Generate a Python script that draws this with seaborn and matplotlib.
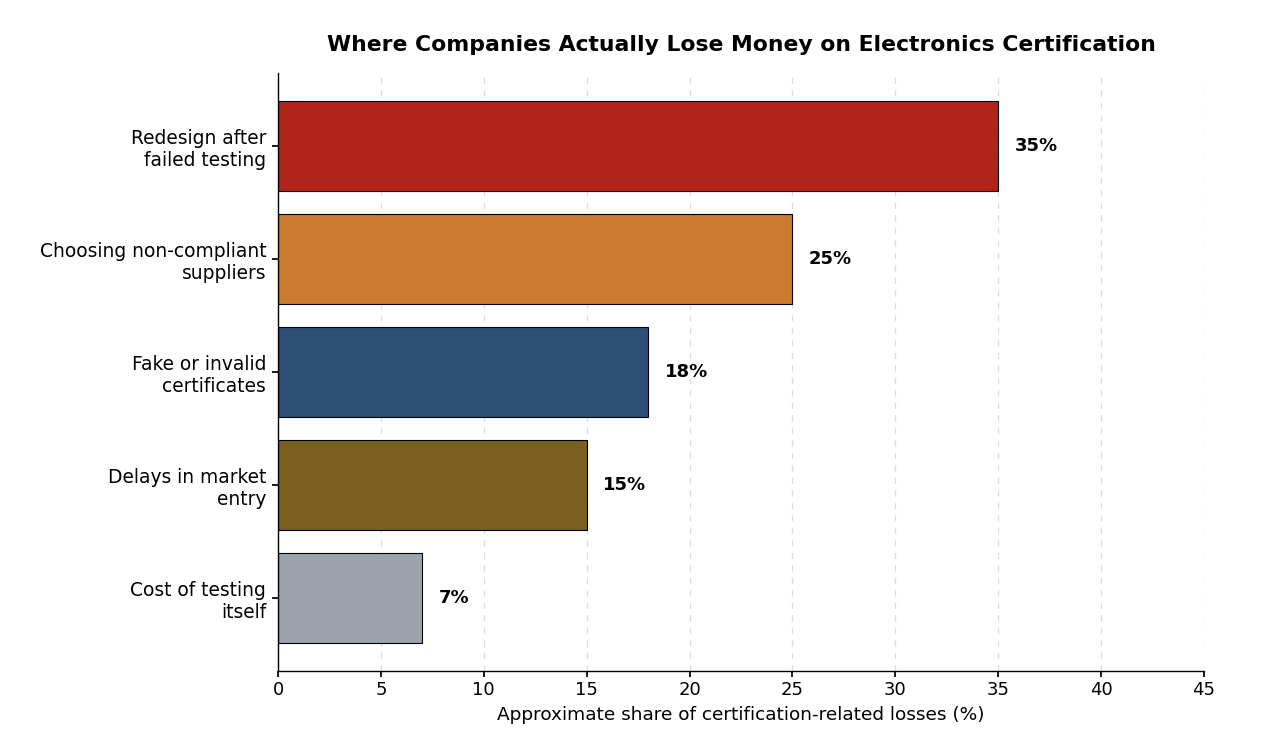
import matplotlib
matplotlib.use("Agg")
import matplotlib.pyplot as plt
import seaborn as sns
import pandas as pd

categories = ["Redesign after\nfailed testing", "Choosing non-compliant\nsuppliers",
              "Fake or invalid\ncertificates", "Delays in market\nentry", "Cost of testing\nitself"]
values = [35, 25, 18, 15, 7]
colors = ["#B0241A", "#CB7A30", "#2D4E75", "#7A6020", "#9CA3AD"]
xticks = [0, 5, 10, 15, 20, 25, 30, 35, 40, 45]

df = pd.DataFrame({"cat": categories, "val": values})

sns.set_theme(style="white")
plt.rcParams['font.family'] = ['DejaVu Sans']
plt.rcParams['text.color'] = 'black'
plt.rcParams['axes.labelcolor'] = 'black'
plt.rcParams['xtick.color'] = 'black'
plt.rcParams['ytick.color'] = 'black'

fig = plt.figure(figsize=(12.88, 7.56), dpi=100)
ax = fig.add_axes([278/1288, 1-671/756, (1204-278)/1288, (671-73)/756])

sns.barplot(data=df, y="cat", x="val", hue="cat", palette=colors, orient="h", saturation=1,
            width=0.8, edgecolor="black", linewidth=0.8, legend=False, ax=ax, zorder=2)

ax.set_xlim(0, 45)
ax.set_ylim(4.65, -0.65)
ax.set_xticks(xticks)
ax.set_xticklabels([str(t) for t in xticks], fontsize=13)
ax.tick_params(axis="y", labelsize=13.4, length=4, left=True, color="black", pad=4.5)
ax.tick_params(axis="x", length=4, bottom=True, color="black")
ax.set_ylabel("")
ax.set_xlabel("Approximate share of certification-related losses (%)", fontsize=13.3, labelpad=5)
ax.xaxis.grid(True, linestyle=(0, (5, 5)), color="#dddddd", linewidth=0.9, zorder=0)
ax.set_axisbelow(True)
for s in ["top", "right"]:
    ax.spines[s].set_visible(False)
for s in ["left", "bottom"]:
    ax.spines[s].set_color("black")
    ax.spines[s].set_linewidth(1.0)

for i, v in enumerate(values):
    ax.text(v + 0.8, i, f"{v}%", va="center", ha="left", fontsize=13, fontweight="bold")

ax.set_title("Where Companies Actually Lose Money on Electronics Certification",
             fontsize=15.75, fontweight="bold", pad=16)

fig.savefig("out.png", dpi=100)
